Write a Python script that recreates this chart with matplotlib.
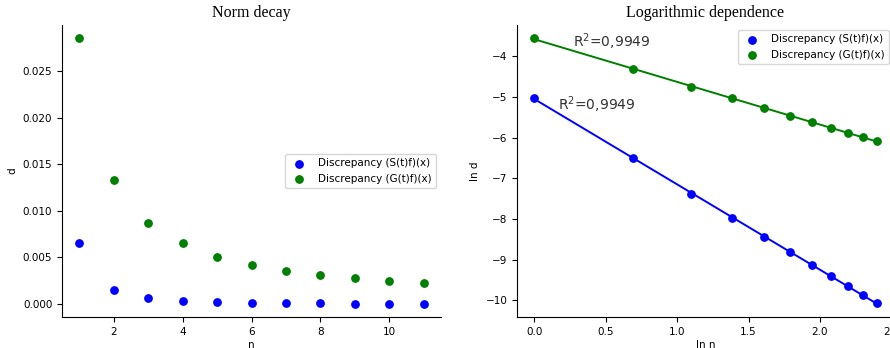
import numpy as np
import matplotlib.pyplot as plt

n = np.arange(1, 12)
# discrepancy norms for the two operators
d_S = [0.0066, 0.0015, 0.00062, 0.00034, 0.000215, 0.000148,
       0.000108, 0.000082, 0.000064, 0.000052, 0.000042]
d_G = [0.0285, 0.0133, 0.0087, 0.0065, 0.0051, 0.0042,
       0.0036, 0.0031, 0.0028, 0.0025, 0.0023]
labels = ['Discrepancy (S(t)f)(x)', 'Discrepancy (G(t)f)(x)']
r2_text = 'R$^2$=0,9949'

plt.rcParams['font.size'] = 7.5
plt.rcParams['mathtext.fontset'] = 'dejavusans'

fig = plt.figure(figsize=(8.9, 3.48), dpi=100)
ax1 = fig.add_axes([62 / 890, 31 / 348, 379 / 890, 292 / 348])
ax2 = fig.add_axes([517 / 890, 31 / 348, 377 / 890, 292 / 348])

title_font = {'family': 'Liberation Serif', 'size': 11.5}

# left: raw norms
ax1.scatter(n, d_S, s=28, color='blue', label=labels[0])
ax1.scatter(n, d_G, s=28, color='green', label=labels[1])
ax1.set_xticks([2, 4, 6, 8, 10])
ax1.set_xlabel('n', labelpad=2)
ax1.set_ylabel('d')
ax1.set_title('Norm decay', fontdict=title_font, pad=6)
ax1.legend(loc='center right', fontsize=7.5)

# right: log-log with linear fits
ln_n = np.log(n)
for d, c, lab, pos in [(d_S, 'blue', labels[0], (0.17, -5.19)),
                       (d_G, 'green', labels[1], (0.27, -3.65))]:
    ln_d = np.log(d)
    k, b = np.polyfit(ln_n, ln_d, 1)
    ax2.scatter(ln_n, ln_d, s=28, color=c, label=lab)
    ax2.plot(ln_n, k * ln_n + b, color=c, lw=1.4)
    ax2.text(pos[0], pos[1], r2_text, fontsize=10, va='center', color='#333333')
ax2.set_xlabel('ln n', labelpad=2)
ax2.set_ylabel('ln d')
ax2.set_title('Logarithmic dependence', fontdict=title_font, pad=6)
ax2.legend(loc='upper right', fontsize=7.5)

for ax in (ax1, ax2):
    ax.spines['top'].set_visible(False)
    ax.spines['right'].set_visible(False)

fig.savefig('out.png', dpi=100)
